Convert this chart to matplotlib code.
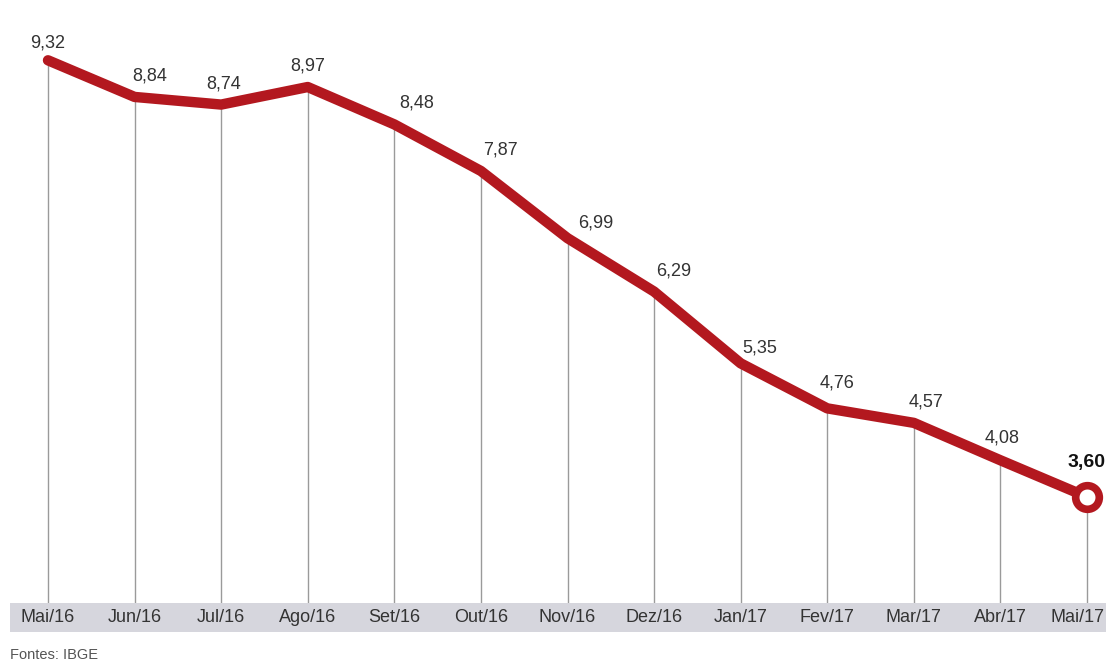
import matplotlib
matplotlib.use("Agg")
import matplotlib.pyplot as plt
from matplotlib.patches import Rectangle

months = ["Mai/16", "Jun/16", "Jul/16", "Ago/16", "Set/16", "Out/16", "Nov/16",
          "Dez/16", "Jan/17", "Fev/17", "Mar/17", "Abr/17", "Mai/17"]
values = [9.32, 8.84, 8.74, 8.97, 8.48, 7.87, 6.99, 6.29, 5.35, 4.76, 4.57, 4.08, 3.60]
labels = ["9,32", "8,84", "8,74", "8,97", "8,48", "7,87", "6,99", "6,29", "5,35",
          "4,76", "4,57", "4,08", "3,60"]
source = "Fontes: IBGE"

# label placement tweaks (points)
label_dx = [0, 11, 2, 0, 16, 14, 20, 14, 14, 7, 9, 1, 0]
label_dy = [6, 9, 9, 9, 9, 9, 5, 9, 5, 12, 9, 10, 19]

FONT = ["Liberation Sans Narrow", "Liberation Sans", "DejaVu Sans"]
RED = "#b3181f"

W, H = 1106, 664
fig = plt.figure(figsize=(W / 100, H / 100), dpi=100)
fig.patch.set_facecolor("white")

# gray band with month labels (figure coords)
band_bottom = (H - 632) / H
band_top = (H - 603) / H
band_mid = (H - 617.5) / H
fig.patches.append(Rectangle((10 / W, band_bottom), 1 - 10 / W, band_top - band_bottom,
                             transform=fig.transFigure, facecolor="#d6d6dd",
                             edgecolor="none", zorder=-5))

ax = fig.add_axes([0, band_top, 1, 1 - band_top])
ax.set_facecolor("none")
x = list(range(len(values)))
step = (1087 - 48) / 12
ax.set_xlim(-48 / step, 12 + (W - 1087) / step)
ybot = 2.21
ax.set_ylim(ybot, 10.11)
ax.axis("off")

# vertical guide lines
ax.vlines(x, ybot, values, colors="#9a9a9a", linewidth=1.0, zorder=1)

# main line
ax.plot(x, values, color=RED, linewidth=7.5, solid_capstyle="round",
        solid_joinstyle="round", zorder=3)
ax.plot([x[-1]], [values[-1]], marker="o", markersize=17, markerfacecolor="white",
        markeredgecolor=RED, markeredgewidth=5.5, zorder=4, clip_on=False)

for i, (xi, v, lab) in enumerate(zip(x, values, labels)):
    last = i == len(values) - 1
    ax.annotate(lab, (xi, v), xytext=(label_dx[i], label_dy[i]),
                textcoords="offset points", ha="center", va="bottom",
                fontsize=14 if last else 13, family=FONT,
                fontweight="bold" if last else "normal",
                color="#111111" if last else "#333333", annotation_clip=False,
                zorder=5)

# month labels on the band
data_to_fig = lambda xv: fig.transFigure.inverted().transform(ax.transData.transform((xv, ybot)))[0]
for i, (xi, m) in enumerate(zip(x, months)):
    fx = data_to_fig(xi)
    if i == len(months) - 1:
        fig.text((W - 2) / W, band_mid, m, ha="right", va="center", fontsize=13,
                 family=FONT, color="#333333")
    else:
        fig.text(fx, band_mid, m, ha="center", va="center", fontsize=13,
                 family=FONT, color="#333333")

fig.text(10 / W, (H - 655) / H, source, ha="left", va="center", fontsize=10.5,
         family=FONT, color="#555555")

fig.savefig("out.png", dpi=100)
